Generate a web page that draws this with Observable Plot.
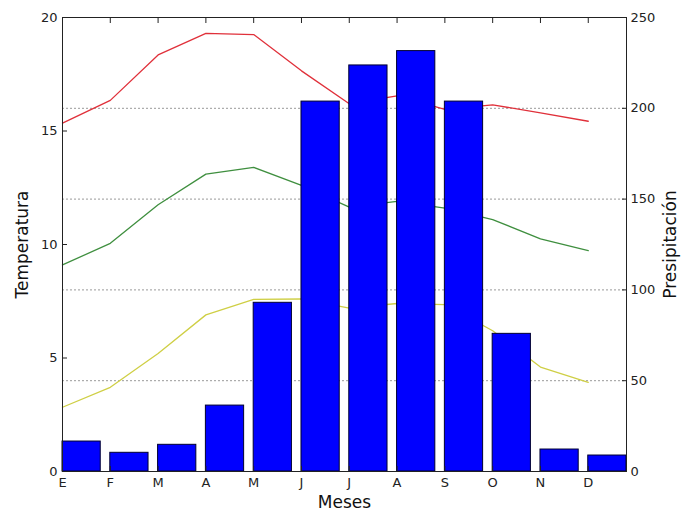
<!DOCTYPE html>
<html><head><meta charset="utf-8">
<script src="https://cdn.jsdelivr.net/npm/d3@7"></script>
<script src="https://cdn.jsdelivr.net/npm/@observablehq/plot@0.6"></script>
<style>body{margin:0;background:#fff}</style>
</head><body><div id="chart"></div>
<script>
const months = ["E","F","M","A","M","J","J","A","S","O","N","D"];
const precip = [16.5,10.3,14.7,36.3,92.9,203.7,223.6,231.5,203.7,75.8,12.1,8.8];
const tMax = [15.35,16.35,18.35,19.3,19.25,17.65,16.2,16.55,15.95,16.15,15.8,15.43];
const tMean = [9.1,10.05,11.75,13.1,13.4,12.6,11.65,11.9,11.6,11.1,10.25,9.73];
const tMin = [2.83,3.71,5.2,6.9,7.58,7.6,7.2,7.4,7.35,6.2,4.6,3.93];
const tempTicks = [0,5,10,15,20];
const precipTicks = [0,50,100,150,200,250];
const gridTicks = [50,100,150,200];

const k = 250 / 20; // temperature -> precipitation axis factor
const idx = d3.range(months.length);
const bars = idx.map(i => ({i, p: precip[i]}));
const series = [
  {name: "max", values: tMax, color: "#e0303a"},
  {name: "mean", values: tMean, color: "#3f8f3f"},
  {name: "min", values: tMin, color: "#cfcf45"}
];
const lines = series.flatMap(s => s.values.map((t, i) => ({i, t, s: s.name})));

const chart = Plot.plot({
  width: 683,
  height: 513,
  marginLeft: 62,
  marginRight: 57,
  marginTop: 17,
  marginBottom: 42,
  style: {fontFamily: "DejaVu Sans", fontSize: "13px", color: "#222", background: "#fff"},
  x: {domain: [0, 11.8], axis: null},
  y: {domain: [0, 250], axis: null},
  marks: [
    Plot.gridY(gridTicks, {stroke: "#999", strokeOpacity: 1, strokeDasharray: "2,2"}),
    ...series.map(s => Plot.line(lines.filter(d => d.s === s.name), {x: "i", y: d => d.t * k, stroke: s.color, strokeWidth: 1.3})),
    Plot.rectY(bars, {x1: "i", x2: d => d.i + 0.8, y: "p", fill: "#0000ff", stroke: "#000030", strokeWidth: 1}),
    Plot.frame({stroke: "#222"}),
    Plot.axisX(idx, {anchor: "bottom", tickSize: 0, tickPadding: 6, tickFormat: i => months[i], label: null}),
    Plot.axisX(idx, {anchor: "bottom", tickSize: -5, tickFormat: () => "", label: null}),
    Plot.axisX(idx, {anchor: "top", tickSize: -5, tickFormat: () => "", label: null}),
    Plot.axisY(tempTicks.map(t => t * k), {anchor: "left", tickSize: 0, tickPadding: 5, tickFormat: d => d / k, label: null}),
    Plot.axisY(tempTicks.map(t => t * k), {anchor: "left", tickSize: -5, tickFormat: () => "", label: null}),
    Plot.axisY(precipTicks, {anchor: "right", tickSize: 0, tickPadding: 4, label: null}),
    Plot.axisY(precipTicks, {anchor: "right", tickSize: -5, tickFormat: () => "", label: null}),
    Plot.text(["Temperatura"], {frameAnchor: "left", dx: -40, rotate: -90, textAnchor: "middle", lineAnchor: "middle", fontSize: 17, fill: "#111"}),
    Plot.text(["Presipitación"], {frameAnchor: "right", dx: 44, rotate: -90, textAnchor: "middle", lineAnchor: "middle", fontSize: 17, fill: "#111"}),
    Plot.text(["Meses"], {frameAnchor: "bottom", dy: 31, textAnchor: "middle", lineAnchor: "middle", fontSize: 17, fill: "#111"})
  ]
});
document.getElementById("chart").appendChild(chart);
</script>
</body></html>
